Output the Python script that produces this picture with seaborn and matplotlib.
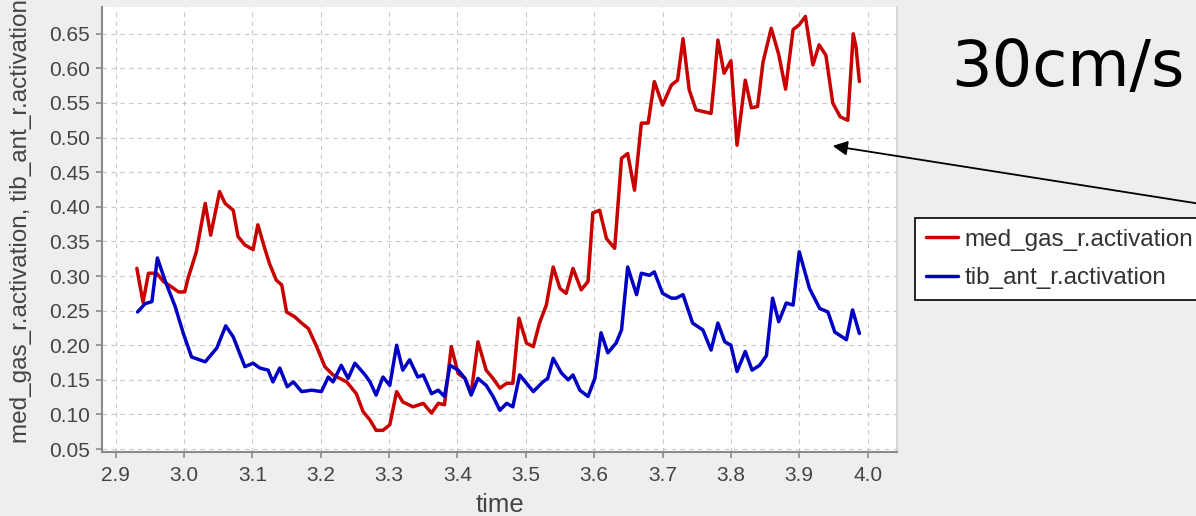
import matplotlib
matplotlib.use("Agg")
import matplotlib.pyplot as plt
import seaborn as sns
import pandas as pd

# ---- data ----
med_gas_time = [2.931, 2.940, 2.948, 2.960, 2.970, 2.982, 2.992, 3.001, 3.006, 3.018,
                3.031, 3.039, 3.052, 3.060, 3.072, 3.079, 3.089, 3.101, 3.108, 3.118,
                3.125, 3.135, 3.143, 3.150, 3.162, 3.172, 3.182, 3.194, 3.206, 3.218,
                3.238, 3.252, 3.262, 3.272, 3.281, 3.291, 3.301, 3.311, 3.320, 3.335,
                3.350, 3.362, 3.372, 3.381, 3.391, 3.401, 3.411, 3.420, 3.430, 3.442,
                3.452, 3.462, 3.472, 3.481, 3.490, 3.501, 3.511, 3.520, 3.530, 3.540,
                3.550, 3.559, 3.569, 3.581, 3.591, 3.598, 3.608, 3.618, 3.630, 3.640,
                3.649, 3.659, 3.669, 3.679, 3.688, 3.700, 3.713, 3.722, 3.730, 3.739,
                3.749, 3.771, 3.775, 3.781, 3.790, 3.800, 3.809, 3.821, 3.830, 3.839,
                3.847, 3.859, 3.870, 3.880, 3.891, 3.900, 3.909, 3.920, 3.929, 3.939,
                3.949, 3.960, 3.971, 3.979, 3.983, 3.988]
med_gas_act = [0.311, 0.262, 0.304, 0.304, 0.292, 0.284, 0.277, 0.277, 0.297, 0.335,
               0.405, 0.359, 0.422, 0.405, 0.395, 0.357, 0.345, 0.338, 0.374, 0.340,
               0.318, 0.294, 0.287, 0.248, 0.241, 0.232, 0.224, 0.198, 0.169, 0.157,
               0.147, 0.130, 0.104, 0.092, 0.077, 0.077, 0.085, 0.133, 0.118, 0.111,
               0.116, 0.102, 0.116, 0.114, 0.198, 0.159, 0.152, 0.130, 0.205, 0.164,
               0.152, 0.138, 0.145, 0.145, 0.239, 0.203, 0.198, 0.232, 0.258, 0.313,
               0.282, 0.275, 0.311, 0.280, 0.292, 0.391, 0.395, 0.354, 0.340, 0.470,
               0.477, 0.424, 0.521, 0.521, 0.581, 0.547, 0.576, 0.583, 0.643, 0.569,
               0.540, 0.535, 0.575, 0.641, 0.593, 0.611, 0.489, 0.583, 0.543, 0.545,
               0.609, 0.658, 0.620, 0.570, 0.656, 0.663, 0.675, 0.605, 0.634, 0.619,
               0.550, 0.530, 0.525, 0.650, 0.631, 0.581]

tib_ant_time = [2.932, 2.943, 2.953, 2.961, 2.972, 2.987, 2.999, 3.011, 3.031, 3.048,
                3.061, 3.072, 3.089, 3.101, 3.111, 3.123, 3.130, 3.140, 3.151, 3.160,
                3.172, 3.187, 3.201, 3.211, 3.218, 3.230, 3.240, 3.250, 3.265, 3.272,
                3.281, 3.291, 3.301, 3.311, 3.320, 3.330, 3.342, 3.350, 3.362, 3.372,
                3.381, 3.389, 3.401, 3.411, 3.420, 3.430, 3.442, 3.452, 3.462, 3.472,
                3.481, 3.491, 3.501, 3.511, 3.525, 3.532, 3.540, 3.552, 3.562, 3.569,
                3.579, 3.591, 3.601, 3.610, 3.620, 3.632, 3.640, 3.649, 3.662, 3.669,
                3.681, 3.688, 3.700, 3.713, 3.720, 3.730, 3.744, 3.759, 3.771, 3.781,
                3.791, 3.800, 3.809, 3.821, 3.831, 3.842, 3.852, 3.861, 3.870, 3.881,
                3.891, 3.900, 3.915, 3.930, 3.942, 3.952, 3.969, 3.978, 3.988]
tib_ant_act = [0.248, 0.260, 0.263, 0.326, 0.294, 0.256, 0.217, 0.183, 0.176, 0.196,
               0.228, 0.212, 0.169, 0.174, 0.167, 0.164, 0.147, 0.167, 0.140, 0.147,
               0.133, 0.135, 0.133, 0.154, 0.147, 0.171, 0.152, 0.174, 0.157, 0.147,
               0.128, 0.154, 0.142, 0.200, 0.164, 0.179, 0.154, 0.157, 0.130, 0.135,
               0.126, 0.171, 0.164, 0.152, 0.128, 0.152, 0.142, 0.126, 0.106, 0.116,
               0.111, 0.157, 0.145, 0.133, 0.147, 0.152, 0.181, 0.160, 0.150, 0.157,
               0.135, 0.126, 0.152, 0.218, 0.189, 0.203, 0.222, 0.313, 0.273, 0.304,
               0.301, 0.306, 0.275, 0.268, 0.268, 0.273, 0.232, 0.222, 0.193, 0.232,
               0.205, 0.200, 0.162, 0.191, 0.164, 0.171, 0.185, 0.268, 0.234, 0.261,
               0.258, 0.335, 0.282, 0.253, 0.248, 0.219, 0.208, 0.251, 0.217]

series_names = ["med_gas_r.activation", "tib_ant_r.activation"]
series_colors = ["#c80000", "#0000c4"]
x_ticks = [2.9, 3.0, 3.1, 3.2, 3.3, 3.4, 3.5, 3.6, 3.7, 3.8, 3.9, 4.0]
y_ticks = [0.05, 0.10, 0.15, 0.20, 0.25, 0.30, 0.35, 0.40, 0.45, 0.50, 0.55, 0.60, 0.65]
x_label = "time"
y_label = "med_gas_r.activation, tib_ant_r.activation"
annotation_text = "30cm/s"
arrow_tip = (3.949, 0.488)

# ---- build long-form table ----
df = pd.concat([
    pd.DataFrame({"time": med_gas_time, "value": med_gas_act, "series": series_names[0]}),
    pd.DataFrame({"time": tib_ant_time, "value": tib_ant_act, "series": series_names[1]}),
], ignore_index=True)

sns.set_style("white")
plt.rcParams["font.family"] = ["Liberation Sans", "DejaVu Sans"]

W, H = 1196, 516
fig = plt.figure(figsize=(W / 100, H / 100), dpi=100, facecolor="#eeeeee")
ax = fig.add_axes([102 / W, (H - 452) / H, (897 - 102) / W, (452 - 7) / H])
ax.set_facecolor("white")

sns.lineplot(data=df, x="time", y="value", hue="series", hue_order=series_names,
             palette=dict(zip(series_names, series_colors)), estimator=None, sort=False,
             linewidth=2.5, legend=False, ax=ax, zorder=3)

ax.set_xlim(2.880, 4.043)
ax.set_ylim(0.0457, 0.6887)
ax.set_xticks(x_ticks)
ax.set_xticklabels([f"{v:.1f}" for v in x_ticks])
ax.set_yticks(y_ticks)
ax.set_yticklabels([f"{v:.2f}" for v in y_ticks])

ax.grid(True, color="#c8c8c8", linestyle=(0, (4, 4)), linewidth=0.8, zorder=0)
for s in ["left", "bottom"]:
    ax.spines[s].set_color("#8a8a8a")
    ax.spines[s].set_linewidth(1.5)
ax.spines["top"].set_visible(False)
ax.spines["right"].set_color("#d0d0d0")
ax.spines["right"].set_linewidth(1.2)

ax.tick_params(axis="both", which="major", direction="out", length=4, width=1.2,
               color="#8a8a8a", labelsize=15, labelcolor="#444444")
ax.tick_params(axis="x", pad=6)
ax.tick_params(axis="y", pad=5)
ax.tick_params(left=True, bottom=True)

ax.set_xlabel(x_label, fontsize=18.5, color="#444444", labelpad=6)
ax.set_ylabel(y_label, fontsize=17.5, color="#444444", labelpad=4)
ax.yaxis.set_label_coords(-0.088, 0.52)

# legend
fig.legend(handles=ax.lines[:2], labels=series_names, loc="upper left",
           bbox_to_anchor=(915 / W, 1 - 218 / H), bbox_transform=fig.transFigure,
           frameon=True, fancybox=False, edgecolor="black", facecolor="white",
           framealpha=1, fontsize=17.5, handlelength=1.3, handletextpad=0.28,
           labelspacing=0.68, borderpad=0.45, borderaxespad=0)
leg = fig.legends[0]
leg.get_frame().set_linewidth(1.2)
for t in leg.get_texts():
    t.set_color("#333333")

# big annotation text
fig.text(1068 / W, 1 - 68 / H, annotation_text, fontsize=46, family="DejaVu Sans",
         ha="center", va="center", color="black")

# arrow
ax.annotate("", xy=arrow_tip, xycoords="data",
            xytext=(1.02, 1 - 207 / H), textcoords="figure fraction",
            arrowprops=dict(arrowstyle="-|>", color="black", lw=1.3,
                            mutation_scale=22, shrinkA=0, shrinkB=0),
            annotation_clip=False, zorder=5)

fig.savefig("out.png", dpi=100, facecolor=fig.get_facecolor())
